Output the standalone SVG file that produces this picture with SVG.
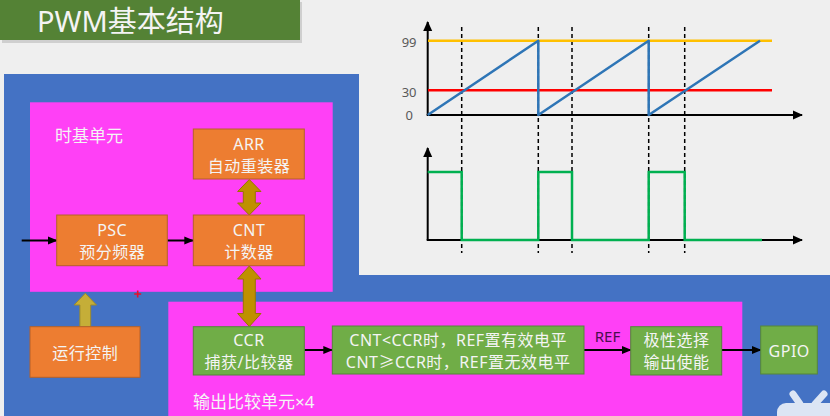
<svg xmlns="http://www.w3.org/2000/svg" width="830" height="416" viewBox="0 0 830 416">
<defs>
<style>
.t{font-family:"Noto Sans","Noto Sans CJK SC",sans-serif;font-size:16px;letter-spacing:0.5px;fill:#F4F4F4;text-anchor:middle}
.tl{font-family:"Noto Sans","Noto Sans CJK SC",sans-serif;font-size:17px;fill:#F4F4F4}
.org{fill:#ED7D31;stroke:#B5612A;stroke-width:1}
.grn{fill:#70AD47;stroke:#55853A;stroke-width:1}
.mag{fill:#FF40F6}
.ax{stroke:#000;stroke-width:2;fill:none}
.dash{stroke:#000;stroke-width:1.5;stroke-dasharray:4 3;fill:none}
.conn{stroke:#000;stroke-width:2;fill:none}
.num{font-family:"Noto Sans",sans-serif;font-size:13px;fill:#595959;text-anchor:end}
.dbl{fill:#BF9000;stroke:#9A7400;stroke-width:1}
</style>
<marker id="ah" viewBox="0 0 10 10" refX="9" refY="5" markerWidth="5" markerHeight="5" orient="auto" markerUnits="strokeWidth">
<path d="M0,1 L10,5 L0,9 Z" fill="#000"/>
</marker>
<marker id="axh" viewBox="0 0 10 10" refX="9" refY="5" markerWidth="5" markerHeight="5" orient="auto" markerUnits="strokeWidth">
<path d="M0,0.5 L10,5 L0,9.5 Z" fill="#000"/>
</marker>
</defs>

<rect width="830" height="416" fill="#EFEFEF"/>

<!-- Title -->
<g id="title">
<rect x="2" y="2" width="300" height="41" fill="#CFCFCF"/>
<rect x="0" y="0" width="300" height="40" fill="#548235"/>
<text x="37" y="32" style="font-family:'Noto Sans','Noto Sans CJK SC',sans-serif;font-size:29px;fill:#F4F4F4">PWM基本结构</text>
</g>

<!-- Waveforms -->
<g id="chart">
<line class="dash" x1="461.7" y1="27" x2="461.7" y2="253"/>
<line class="dash" x1="538.3" y1="27" x2="538.3" y2="253"/>
<line class="dash" x1="572" y1="27" x2="572" y2="253"/>
<line class="dash" x1="648.7" y1="27" x2="648.7" y2="253"/>
<line class="dash" x1="684.7" y1="27" x2="684.7" y2="253"/>
<line class="ax" x1="427.7" y1="115" x2="427.7" y2="22" marker-end="url(#axh)"/>
<line class="ax" x1="426.7" y1="115" x2="802" y2="115" marker-end="url(#axh)"/>
<line x1="428" y1="40.7" x2="772" y2="40.7" stroke="#FFC000" stroke-width="2.5"/>
<line x1="428" y1="90.3" x2="772" y2="90.3" stroke="#FF0000" stroke-width="2.5"/>
<polyline points="427.7,115 538.3,40.7 538.3,115 648.7,40.7 648.7,115 760,40.7" fill="none" stroke="#2E75B6" stroke-width="2.5" stroke-linejoin="round"/>
<text class="num" x="416.5" y="46.5">99</text>
<text class="num" x="416.5" y="96.5">30</text>
<text class="num" x="413" y="120">0</text>
<line class="ax" x1="427.7" y1="240" x2="427.7" y2="148" marker-end="url(#axh)"/>
<line class="ax" x1="426.7" y1="240" x2="802" y2="240" marker-end="url(#axh)"/>
<polyline points="427.7,172 461.7,172 461.7,240 538.3,240 538.3,172 572,172 572,240 648.7,240 648.7,172 684.7,172 684.7,240 762,240" fill="none" stroke="#00B050" stroke-width="2.5"/>
</g>

<!-- Background panels -->
<g id="panels">
<path d="M4,74 H359 V275 H830 V416 H4 Z" fill="#4472C4"/>
<rect class="mag" x="30" y="102.3" width="302.7" height="189.5"/>
<rect class="mag" x="168.3" y="301.7" width="574" height="120"/>
<text class="tl" x="55" y="142">时基单元</text>
<text class="tl" x="193" y="408">输出比较单元×4</text>
<path d="M134.2,294 H141.2 M137.7,290.5 V297.5" stroke="#E8102A" stroke-width="1.6"/>
</g>

<!-- Connectors -->
<g id="connectors">
<line class="conn" x1="21.7" y1="240.5" x2="56.7" y2="240.5" marker-end="url(#ah)"/>
<line class="conn" x1="167.3" y1="240.5" x2="193.3" y2="240.5" marker-end="url(#ah)"/>
<line class="conn" x1="304.3" y1="350" x2="332.3" y2="350" marker-end="url(#ah)"/>
<line class="conn" x1="584" y1="350" x2="630.7" y2="350" marker-end="url(#ah)"/>
<line class="conn" x1="721.7" y1="350" x2="760.7" y2="350" marker-end="url(#ah)"/>
<text x="607.5" y="342" style="font-family:'Noto Sans',sans-serif;font-size:15px;fill:#4A0E4E;text-anchor:middle">REF</text>
<path class="dbl" d="M249.3,179.5 L261,191.5 L255.3,191.5 L255.3,203 L261,203 L249.3,215 L237.6,203 L243.3,203 L243.3,191.5 L237.6,191.5 Z"/>
<path class="dbl" d="M249.3,266 L261,279 L255.3,279 L255.3,313.5 L261,313.5 L249.3,326.5 L237.6,313.5 L243.3,313.5 L243.3,279 L237.6,279 Z"/>
<path d="M85.3,293.3 L96.5,305 L90.7,305 L90.7,326.7 L79.9,326.7 L79.9,305 L74.1,305 Z" fill="#C5AE38" stroke="#9C8A2C" stroke-width="1"/>
</g>

<!-- Nodes -->
<g id="arr">
<rect class="org" x="193.3" y="129" width="111" height="50"/>
<text class="t" x="249" y="150">ARR</text>
<text class="t" x="249" y="172">自动重装器</text>
</g>
<g id="psc">
<rect class="org" x="56.7" y="215" width="110.6" height="50.7"/>
<text class="t" x="112.2" y="236">PSC</text>
<text class="t" x="112.2" y="258">预分频器</text>
</g>
<g id="cnt">
<rect class="org" x="193.3" y="215" width="111" height="50.7"/>
<text class="t" x="249" y="236">CNT</text>
<text class="t" x="249" y="258">计数器</text>
</g>
<g id="run">
<rect class="org" x="30" y="326.7" width="110" height="50.6"/>
<text class="t" x="85.2" y="359">运行控制</text>
</g>
<g id="ccr">
<rect class="grn" x="193.3" y="326.7" width="111" height="48.3"/>
<text class="t" x="249" y="345.5">CCR</text>
<text class="t" x="249" y="367.5">捕获/比较器</text>
</g>
<g id="cmp">
<rect class="grn" x="332.3" y="326" width="251.7" height="48"/>
<text class="t" x="458.2" y="345.5">CNT&lt;CCR时，REF置有效电平</text>
<text class="t" x="458.2" y="367.5">CNT≥CCR时，REF置无效电平</text>
</g>
<g id="pol">
<rect class="grn" x="630.7" y="326.7" width="91" height="48.3"/>
<text class="t" x="676.4" y="345.5">极性选择</text>
<text class="t" x="676.4" y="367.5">输出使能</text>
</g>
<g id="gpio">
<rect class="grn" x="760.7" y="326" width="56.6" height="48"/>
<text class="t" x="789.2" y="356.5">GPIO</text>
</g>

<!-- watermark -->
<g id="mark" fill="#DCE5F4">
<rect x="777" y="403" width="70" height="30" rx="9"/>
<path d="M800,404 L793,394" stroke="#DCE5F4" stroke-width="7" stroke-linecap="round"/>
<path d="M815,404 L824,394" stroke="#DCE5F4" stroke-width="7" stroke-linecap="round"/>
</g>
</svg>
